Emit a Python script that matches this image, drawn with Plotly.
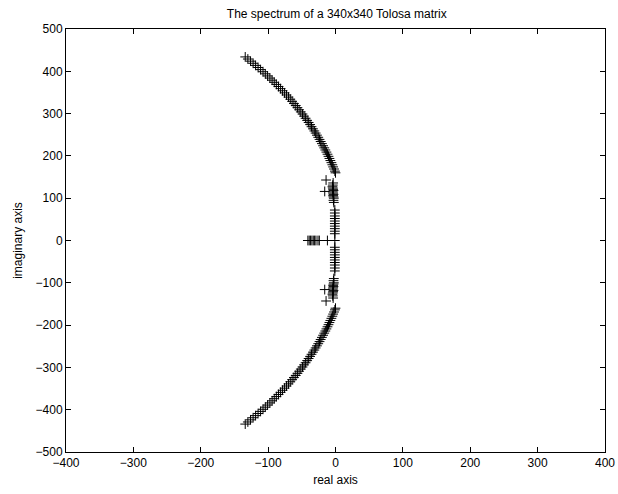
import plotly.graph_objects as go

# Upper arc of eigenvalues (real, imaginary)
arc_re = [-134.0, -130.1, -126.1, -122.3, -118.6, -114.9, -111.2, -107.6, -104.2, -100.8,
          -97.4, -94.1, -90.9, -87.8, -84.6, -81.5, -78.6, -75.6, -72.7, -69.8,
          -67.1, -64.4, -61.7, -59.0, -56.5, -54.0, -51.5, -49.0, -46.7, -44.4,
          -42.1, -39.9, -37.7, -35.6, -33.5, -31.4, -29.5, -27.6, -25.6, -23.7,
          -22.0, -20.2, -18.4, -16.7, -15.1, -13.5, -11.9, -10.4, -9.0, -7.6,
          -6.1, -4.7, -3.5, -2.2, -0.9, 0.0]
arc_im = [434, 429, 424, 419, 414, 409, 404, 399, 394, 389,
          384, 379, 374, 369, 364, 359, 354, 349, 344, 339,
          334, 329, 324, 319, 314, 309, 304, 299, 294, 289,
          284, 279, 274, 269, 264, 259, 254, 249, 244, 239,
          234, 229, 224, 219, 214, 209, 204, 199, 194, 189,
          184, 179, 174, 169, 164, 160]

# Eigenvalues close to the imaginary axis (upper half)
near_re = [-3.5, -4.0, -4.5, -4.0, -3.5, -3.0, -4.0, -3.5, -3.0, -3.5, -3.0, -2.5, -3.0, -2.5,
           -1.0, -1.0, -1.0, -1.0, -1.0, -1.0, -1.0, -1.0, -1.0, -1.0,
           -14.0, -16.0]
near_im = [136, 131, 127, 124, 121, 118, 115, 112, 109, 106, 103, 100, 95, 90,
           72, 65, 58, 52, 46, 40, 34, 28, 22, 16,
           143, 116]

# Real eigenvalues
real_re = [-41, -39, -37, -35, -33, -31, -29, -26, -24, -12, -1]

xs = arc_re + near_re + arc_re + near_re + real_re
ys = arc_im + near_im + [-v for v in arc_im] + [-v for v in near_im] + [0] * len(real_re)

FONT = "Liberation Sans, Arial, Helvetica, sans-serif"

fig = go.Figure()
fig.add_trace(go.Scatter(
    x=xs, y=ys, mode="markers",
    marker=dict(symbol="cross-thin", size=7, color="black",
                line=dict(color="black", width=1)),
    showlegend=False, hoverinfo="skip"))

axis_common = dict(
    showgrid=False, zeroline=False, showline=True, linecolor="black", linewidth=1,
    mirror="allticks", ticks="inside", ticklen=5, tickcolor="black",
    automargin=False,
    tickfont=dict(family=FONT, size=12, color="black"),
)

fig.update_layout(
    width=618, height=494,
    margin=dict(l=66, r=13, t=29, b=42),
    paper_bgcolor="white", plot_bgcolor="white",
    title=dict(text="The spectrum of a 340x340 Tolosa matrix", x=0.545, xanchor="center",
               y=0.972, yanchor="middle",
               font=dict(family=FONT, size=12, color="black")),
    xaxis=dict(range=[-400, 400], tickmode="array",
               tickvals=[-400, -300, -200, -100, 0, 100, 200, 300, 400],
               title=dict(text="real axis", standoff=6,
                          font=dict(family=FONT, size=12, color="black")),
               **axis_common),
    yaxis=dict(range=[-500, 500], tickmode="array",
               tickvals=[-500, -400, -300, -200, -100, 0, 100, 200, 300, 400, 500],
               title=dict(text="imaginary axis", standoff=10,
                          font=dict(family=FONT, size=12, color="black")),
               **axis_common),
)

fig.write_html("out.html", config={"displayModeBar": False, "staticPlot": True},
               post_script="document.body.style.margin='0px';")
